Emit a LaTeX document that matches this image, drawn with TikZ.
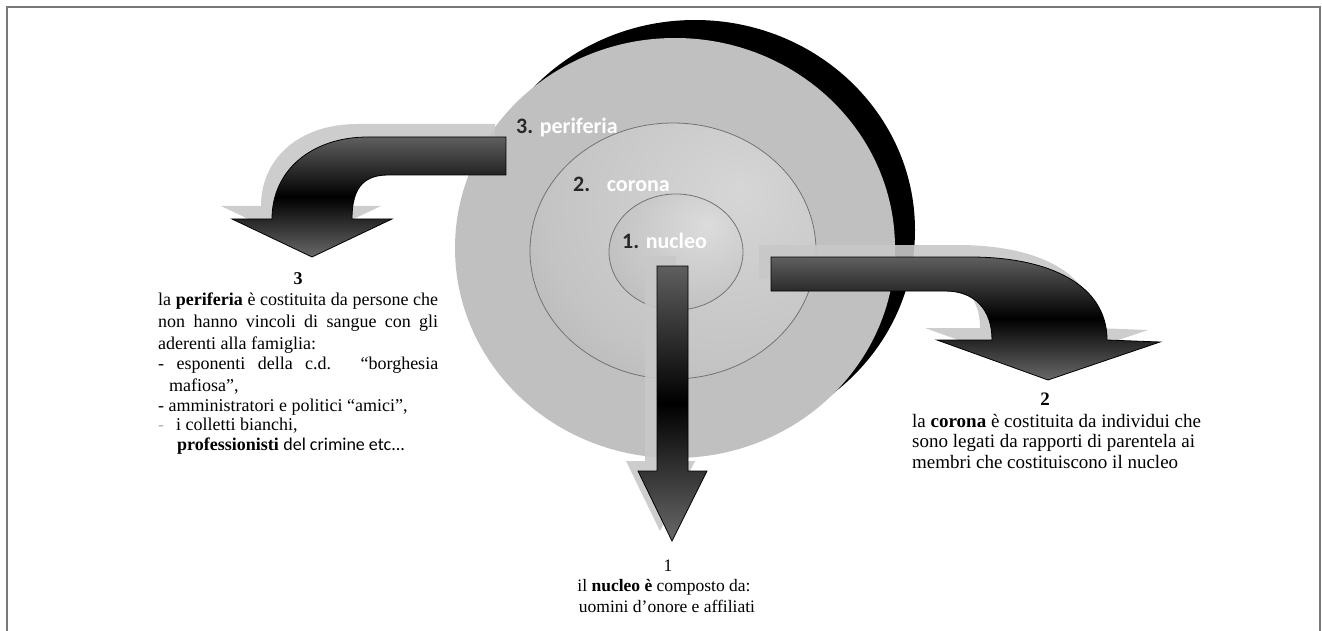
\documentclass[tikz,border=0pt]{standalone}
\usepackage{fontspec}
\setmainfont{Liberation Serif}
\newfontfamily\labfont{Carlito}
\definecolor{disc}{RGB}{192,192,192}
\definecolor{corl}{RGB}{214,214,214}
\definecolor{corm}{RGB}{196,196,196}
\definecolor{cord}{RGB}{158,158,158}
\definecolor{nucl}{RGB}{220,220,220}
\definecolor{nucd}{RGB}{170,170,170}
\definecolor{ringc}{RGB}{115,115,115}
\definecolor{argray}{RGB}{95,95,95}
\definecolor{arbot}{RGB}{105,105,105}
\definecolor{shad}{RGB}{200,200,200}
\definecolor{framec}{RGB}{120,120,120}
\definecolor{labdark}{RGB}{40,40,40}
\pgfdeclareradialshading{coronash}{\pgfpoint{12bp}{12bp}}{color(0bp)=(corl); color(30bp)=(corm); color(62bp)=(cord); color(90bp)=(cord)}
\pgfdeclareradialshading{nucleosh}{\pgfpoint{12bp}{12bp}}{color(0bp)=(nucl); color(62bp)=(nucd); color(90bp)=(nucd)}
\tikzset{
  arrowbody/.style={draw=black, line width=0.8pt, top color=argray, bottom color=arbot, middle color=black},
  arrowshadow/.style={fill=shad, opacity=0.9},
  lab/.style={font=\labfont\bfseries\fontsize{22}{26}\selectfont, inner sep=0pt, anchor=base west},
  bodyl/.style={inner sep=0pt, anchor=base west, font=\fontsize{18}{20.7}\selectfont},
  bodyr/.style={inner sep=0pt, anchor=base west, font=\fontsize{19}{21}\selectfont},
  bodyc/.style={inner sep=0pt, anchor=base, font=\fontsize{17.5}{21}\selectfont},
  ringline/.style={draw=ringc, line width=0.8pt},
  framel/.style={draw=framec, line width=2pt}
}
\begin{document}
\begin{tikzpicture}[x=1pt,y=-1pt]
\useasboundingbox (0,0) rectangle (1322,631);
% frame
\coordinate (f1) at (7,631);
\coordinate (f2) at (7,7);
\coordinate (f3) at (1320,7);
\coordinate (f4) at (1320,631);
\draw[framel] (f1) -- (f2) -- (f3) -- (f4);
% circles
\fill[black] (695,230) ellipse [x radius=220, y radius=210];
\fill[disc] (675,248) ellipse [x radius=220, y radius=210];
\shade[shading=coronash] (673,251) ellipse [x radius=143, y radius=128];
\draw[ringline] (673,251) ellipse [x radius=143, y radius=128];
\shade[shading=nucleosh] (676,252) ellipse [x radius=67, y radius=58];
\draw[ringline] (676,252) ellipse [x radius=67, y radius=58];
% labels
\node[lab] (l3) at (516,134) {{\color{labdark}3.} {\color{white}periferia}};
\node[lab] (l2) at (573,192) {{\color{labdark}2.}\hspace{10pt} {\color{white}corona}};
\node[lab] (l1) at (622,248) {{\color{labdark}1.} {\color{white}nucleo}};
% arrow 3 (left)
\begin{scope}[shift={(-11,-13)}]
\fill[arrowshadow] (506,137) -- (368,137) .. controls (312,137) and (272,170) .. (272,219) -- (232,219) -- (312,257) -- (392,219) -- (352,219) .. controls (352,190) and (362,175) .. (388,175) -- (506,175) -- cycle;
\end{scope}
\shade[arrowbody] (506,137) -- (368,137) .. controls (312,137) and (272,170) .. (272,219) -- (232,219) -- (312,257) -- (392,219) -- (352,219) .. controls (352,190) and (362,175) .. (388,175) -- (506,175) -- cycle;
% arrow 2 (right)
\begin{scope}[shift={(-12,-12)}]
\fill[arrowshadow] (771,257) -- (970,257) .. controls (1050,257) and (1107,285) .. (1107,340) -- (1160,342) -- (1048,380) -- (937,340) -- (992,340) .. controls (992,310) and (975,291) .. (945,291) -- (771,291) -- cycle;
\end{scope}
\shade[arrowbody] (771,257) -- (970,257) .. controls (1050,257) and (1107,285) .. (1107,340) -- (1160,342) -- (1048,380) -- (937,340) -- (992,340) .. controls (992,310) and (975,291) .. (945,291) -- (771,291) -- cycle;
% arrow 1 (down)
\begin{scope}[shift={(-12,-10)}]
\fill[arrowshadow] (657,266) -- (688,266) -- (688,471) -- (707,471) -- (672,541) -- (638,471) -- (657,471) -- cycle;
\end{scope}
\shade[arrowbody] (657,266) -- (688,266) -- (688,471) -- (707,471) -- (672,541) -- (638,471) -- (657,471) -- cycle;
% text 3
\node[bodyl] (t3a) at (158,284) {\makebox[280pt][c]{\textbf{3}}};
\node[bodyl] (t3b) at (158,305) {\makebox[280pt][s]{la \textbf{periferia} è costituita da persone che}};
\node[bodyl] (t3c) at (158,327) {\makebox[280pt][s]{non hanno vincoli di sangue con gli}};
\node[bodyl] (t3d) at (158,349) {aderenti alla famiglia:};
\node[bodyl] (t3e) at (158,369) {\makebox[280pt][s]{- esponenti della c.d. \mbox{“borghesia}}};
\node[bodyl] (t3f) at (169,391) {mafiosa”,};
\node[bodyl] (t3g) at (158,411) {- amministratori e politici “amici”,};
\node[bodyl] (t3h) at (158,430) {{\color{gray!60}-}\hspace{12pt}i colletti bianchi,};
\node[bodyl] (t3i) at (177,450) {\textbf{professionisti} {\labfont del crimine etc...}};
% text 2
\node[bodyr, anchor=base] (t2a) at (1045,405) {\textbf{2}};
\node[bodyr] (t2b) at (912,427) {la \textbf{corona} è costituita da individui che};
\node[bodyr] (t2c) at (912,447) {sono legati da rapporti di parentela ai};
\node[bodyr] (t2d) at (912,468) {membri che costituiscono il nucleo};
% text 1
\node[bodyc] (t1a) at (668,571) {1};
\node[bodyc] (t1b) at (664,591) {il \textbf{nucleo è} composto da:};
\node[bodyc] (t1c) at (667,612) {uomini d’onore e affiliati};
\end{tikzpicture}
\end{document}
